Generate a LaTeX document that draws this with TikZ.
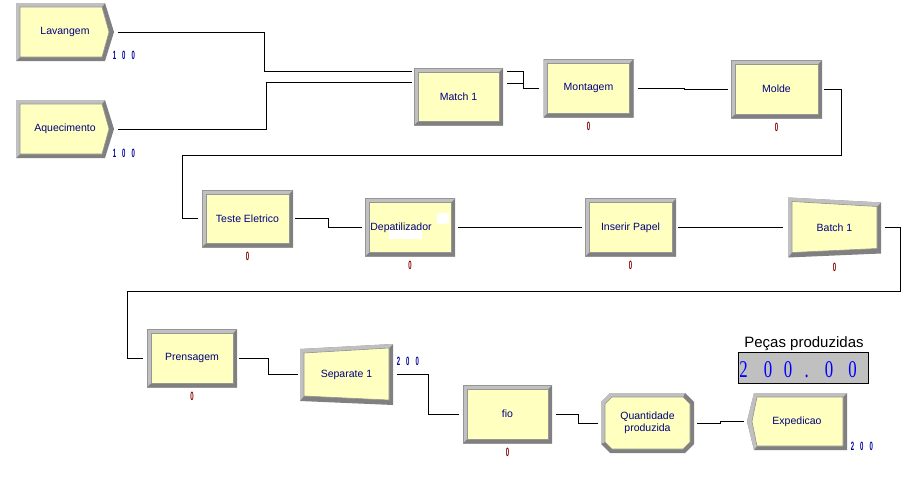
\documentclass[tikz,border=0pt]{standalone}
\usepackage{fontspec}
\setmainfont{Liberation Sans}
\newfontfamily\ledfont{Liberation Serif}
\usepackage{graphicx}
\usetikzlibrary{positioning}

\definecolor{arenaY}{RGB}{255,255,192}
\definecolor{bevlt}{RGB}{192,192,192}
\definecolor{bevdk}{RGB}{128,128,128}
\definecolor{bevln}{RGB}{150,150,150}
\definecolor{modtxt}{RGB}{0,0,128}
\definecolor{cntred}{RGB}{128,0,0}
\definecolor{cntblue}{RGB}{0,0,160}
\definecolor{dispbg}{RGB}{192,192,192}

\newcommand{\nar}[1]{\scalebox{0.5}[1]{\bfseries #1}}
\newcommand{\bbcorners}{%
  \coordinate (sw) at (path picture bounding box.south west);
  \coordinate (nw) at (path picture bounding box.north west);
  \coordinate (ne) at (path picture bounding box.north east);
  \coordinate (se) at (path picture bounding box.south east);
  \coordinate (w) at (path picture bounding box.west);
  \coordinate (e) at (path picture bounding box.east);}

\begin{document}
\begin{tikzpicture}[x = 1pt, y = -1pt, line width = 0.9pt,
    module/.style = {rectangle, inner sep = 0pt, align = center, text = modtxt,
                     font = \fontsize{10.5}{12}\selectfont},
    procbox/.style = {module, minimum width = 90pt, minimum height = 58pt,
      path picture = {\bbcorners
        \fill [bevdk] (sw) rectangle (ne);
        \fill [bevlt] (sw) -- (nw) -- (ne) -- ([shift={(-4pt,-4pt)}]ne) -- ([shift={(4pt,-4pt)}]nw) -- ([shift={(4pt,4pt)}]sw) -- cycle;
        \filldraw [fill = arenaY, draw = bevln, line width = 0.6pt] ([shift={(4pt,4pt)}]sw) rectangle ([shift={(-4pt,-4pt)}]ne);
        \draw [bevln, line width = 0.8pt] (sw) rectangle (ne);}},
    createbox/.style = {module, minimum width = 98pt, minimum height = 58pt,
      path picture = {\bbcorners
        \fill [bevdk] (sw) -- (nw) -- ([xshift=-9pt]ne) -- (e) -- ([xshift=-9pt]se) -- cycle;
        \fill [bevlt] (sw) -- (nw) -- ([xshift=-9pt]ne) -- ([shift={(-12pt,-4pt)}]ne) -- ([shift={(4pt,-4pt)}]nw) -- ([shift={(4pt,4pt)}]sw) -- cycle;
        \filldraw [fill = arenaY, draw = bevln, line width = 0.6pt] ([shift={(4pt,4pt)}]sw) -- ([shift={(4pt,-4pt)}]nw) -- ([shift={(-12pt,-4pt)}]ne) -- ([xshift=-5pt]e) -- ([shift={(-12pt,4pt)}]se) -- cycle;}},
    disposebox/.style = {module, minimum width = 100pt, minimum height = 57pt,
      path picture = {\bbcorners
        \fill [bevdk] ([xshift=7pt]nw) -- (ne) -- (se) -- ([xshift=7pt]sw) -- (w) -- cycle;
        \fill [bevlt] (w) -- ([xshift=7pt]nw) -- (ne) -- ([shift={(-4pt,-4pt)}]ne) -- ([shift={(10pt,-4pt)}]nw) -- ([xshift=5pt]w) -- ([shift={(10pt,4pt)}]sw) -- ([xshift=7pt]sw) -- cycle;
        \filldraw [fill = arenaY, draw = bevln, line width = 0.6pt] ([shift={(10pt,-4pt)}]nw) -- ([shift={(-4pt,-4pt)}]ne) -- ([shift={(-4pt,4pt)}]se) -- ([shift={(10pt,4pt)}]sw) -- ([xshift=5pt]w) -- cycle;}},
    batchbox/.style = {module, minimum width = 93pt, minimum height = 60pt,
      path picture = {\bbcorners
        \fill [bevdk] (sw) -- (nw) -- ([yshift=-5pt]ne) -- ([yshift=4pt]se) -- cycle;
        \fill [bevlt] (sw) -- (nw) -- ([yshift=-5pt]ne) -- ([shift={(-4pt,-9pt)}]ne) -- ([shift={(4pt,-4pt)}]nw) -- ([shift={(4pt,5pt)}]sw) -- cycle;
        \filldraw [fill = arenaY, draw = bevln, line width = 0.6pt] ([shift={(4pt,5pt)}]sw) -- ([shift={(4pt,-4pt)}]nw) -- ([shift={(-4pt,-9pt)}]ne) -- ([shift={(-4pt,9pt)}]se) -- cycle;}},
    sepbox/.style = {module, minimum width = 93pt, minimum height = 61pt,
      path picture = {\bbcorners
        \fill [bevdk] ([yshift=4pt]sw) -- ([yshift=-5pt]nw) -- (ne) -- (se) -- cycle;
        \fill [bevlt] ([yshift=4pt]sw) -- ([yshift=-5pt]nw) -- (ne) -- ([shift={(-4pt,-4pt)}]ne) -- ([shift={(4pt,-9pt)}]nw) -- ([shift={(4pt,9pt)}]sw) -- cycle;
        \filldraw [fill = arenaY, draw = bevln, line width = 0.6pt] ([shift={(4pt,9pt)}]sw) -- ([shift={(4pt,-9pt)}]nw) -- ([shift={(-4pt,-4pt)}]ne) -- ([shift={(-4pt,5pt)}]se) -- cycle;}},
    recbox/.style = {module, minimum width = 93pt, minimum height = 60pt,
      path picture = {\bbcorners
        \fill [bevdk] ([xshift=9pt]nw) -- ([xshift=-9pt]ne) -- ([yshift=-9pt]ne) -- ([yshift=9pt]se) -- ([xshift=-9pt]se) -- ([xshift=9pt]sw) -- ([yshift=9pt]sw) -- ([yshift=-9pt]nw) -- cycle;
        \fill [bevlt] ([yshift=9pt]sw) -- ([yshift=-9pt]nw) -- ([xshift=9pt]nw) -- ([xshift=-9pt]ne) -- ([shift={(-11pt,-4pt)}]ne) -- ([shift={(11pt,-4pt)}]nw) -- ([shift={(4pt,-11pt)}]nw) -- ([shift={(4pt,11pt)}]sw) -- cycle;
        \filldraw [fill = arenaY, draw = bevln, line width = 0.6pt] ([shift={(11pt,-4pt)}]nw) -- ([shift={(-11pt,-4pt)}]ne) -- ([shift={(-4pt,-11pt)}]ne) -- ([shift={(-4pt,11pt)}]se) -- ([shift={(-11pt,4pt)}]se) -- ([shift={(11pt,4pt)}]sw) -- ([shift={(4pt,11pt)}]sw) -- ([shift={(4pt,-11pt)}]nw) -- cycle;}},
    redcnt/.style = {inner sep = 0pt, text = cntred, font = \fontsize{12}{12}\selectfont},
    bluecnt/.style = {inner sep = 0pt, text = cntblue, font = \fontsize{12}{12}\selectfont, anchor = west},
    leddigit/.style = {inner sep = 0pt, anchor = base, text = blue, font = \ledfont\fontsize{24}{24}\selectfont}]

  \fill [white] (0,0) rectangle (924,490);
  \useasboundingbox (0,0) rectangle (924,490);

  % modules
  \node [createbox] (lav) at (65,32) {Lavangem};
  \node [createbox] (aqu) at (65,129) {Aquecimento};
  \node [procbox, minimum width = 89pt, minimum height = 57pt] (match) at (458.5,96.5) {Match 1};
  \node [procbox] (mont) at (588.5,88) {Montagem};
  \node [procbox, minimum width = 91pt] (molde) at (776.5,89) {Molde};
  \node [procbox, minimum width = 91pt, minimum height = 57pt] (teste) at (247.5,218.5) {Teste Eletrico};
  \node [procbox] (depat) at (410,227.5) {Depatilizador\hspace*{18pt}};
  \node [procbox, minimum width = 91pt] (inser) at (630.5,227.5) {Inserir Papel};
  \node [batchbox] (batch) at (834.5,227.5) {Batch 1};
  \node [procbox] (pren) at (192,358) {Prensagem};
  \node [sepbox] (sep) at (346.5,374.5) {Separate 1};
  \node [procbox, minimum width = 89pt] (fio) at (507.5,414) {fio};
  \node [recbox] (quant) at (647.5,423) {Quantidade\\produzida};
  \node [disposebox] (exped) at (797,421.5) {Expedicao};

  \fill [white] (437,213) rectangle (449,224);
  \fill [white] (389,230) rectangle (422,239);

  % counters
  \node [bluecnt] (lavq) at ([xshift=-2pt,yshift=6pt]lav.south east) {\nar{1}\hspace{6pt}\nar{0}\hspace{6pt}\nar{0}};
  \node [bluecnt] (aquq) at ([xshift=-2pt,yshift=5pt]aqu.south east) {\nar{1}\hspace{6pt}\nar{0}\hspace{6pt}\nar{0}};
  \node [bluecnt] (sepq) at ([xshift=3pt,yshift=-18pt]sep.north east) {\nar{2}\hspace{6pt}\nar{0}\hspace{6pt}\nar{0}};
  \node [bluecnt] (expq) at ([xshift=3pt,yshift=4pt]exped.south east) {\nar{2}\hspace{6pt}\nar{0}\hspace{6pt}\nar{0}};
  \node [redcnt, below = 4pt of mont] (montq) {\nar{0}};
  \node [redcnt, below = 4pt of molde] (moldeq) {\nar{0}};
  \node [redcnt, below = 4pt of teste] (testeq) {\nar{0}};
  \node [redcnt, below = 3.5pt of depat] (depatq) {\nar{0}};
  \node [redcnt, below = 4pt of inser] (inserq) {\nar{0}};
  \node [redcnt, below = 4.5pt of batch] (batchq) {\nar{0}};
  \node [redcnt, below = 4pt of pren] (prenq) {\nar{0}};
  \node [redcnt, below = 4pt of fio] (fioq) {\nar{0}};

  % connectors
  \draw ([xshift=4pt]lav.east) -- ++(146,0) |- ([xshift=-2pt,yshift=-4pt]match.north west);
  \draw ([xshift=4pt]aqu.east) -- ++(148,0) |- ([xshift=-2pt,yshift=-15pt]match.north west);
  \draw ([xshift=4pt,yshift=-4pt]match.north east) -- ++(16,0) |- ([xshift=-4pt]mont.west);
  \draw ([xshift=4pt,yshift=-16pt]match.north east) -- ++(16,0);
  \draw ([xshift=4pt]mont.east) -- ++(46,0) -- ++(0,1) -- ([xshift=-3pt]molde.west);
  \draw ([xshift=2pt]molde.east) -| ++(17,66) -| ([xshift=-19pt]teste.west) -- ([xshift=-4pt]teste.west);
  \draw ([xshift=2pt]teste.east) -- ++(33,0) |- ([xshift=-3pt]depat.west);
  \draw ([xshift=3pt]depat.east) -- ([xshift=-3pt]inser.west);
  \draw ([xshift=2pt]inser.east) -- ([xshift=-5pt]batch.west);
  \draw ([xshift=4pt]batch.east) -| ++(15,64) -| ([xshift=-19pt]pren.west) -- ([xshift=-4pt]pren.west);
  \draw ([xshift=2pt]pren.east) -- ++(29,0) |- ([xshift=-2pt]sep.west);
  \draw ([xshift=4pt]sep.east) -- ++(31,0) |- ([xshift=-4pt]fio.west);
  \draw ([xshift=4pt]fio.east) -- ++(22,0) |- ([xshift=-3pt]quant.west);
  \draw ([xshift=3pt]quant.east) -- ++(23,0) |- ([xshift=-3pt]exped.west);

  % display
  \node [anchor = base, font = \fontsize{15}{15}\selectfont] (title) at (804,347) {Peças produzidas};
  \node [draw = black, line width = 0.8pt, fill = dispbg, minimum width = 130pt, minimum height = 31pt, inner sep = 0pt] (disp) at (803,367.5) {};
  \foreach \px/\ch [count=\i] in {743.5/2, 768/0, 788/0, 806.7/., 829/0, 852.5/0}
    \node [leddigit] (dig\i) at (\px,377) {\scalebox{0.7}[1]{\ch}};
\end{tikzpicture}
\end{document}
